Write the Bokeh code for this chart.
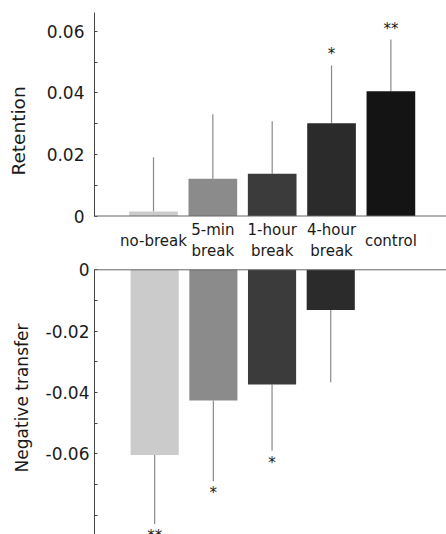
from bokeh.plotting import figure
from bokeh.layouts import column
from bokeh.models import Range1d, FixedTicker, Span, ColumnDataSource
from bokeh.core.properties import value
from bokeh.embed import file_html
from bokeh.resources import INLINE

# ---- data ----
categories = ["no-break", "5-min break", "1-hour break", "4-hour break", "control"]
category_labels = ["no-break", "5-min\nbreak", "1-hour\nbreak", "4-hour\nbreak", "control"]
bar_colors = ["#cbcbcb", "#8b8b8b", "#3b3b3b", "#2b2b2b", "#141414"]

retention = [0.0015, 0.0121, 0.0137, 0.0301, 0.0405]
retention_err = [0.0176, 0.0209, 0.0171, 0.0188, 0.0168]
retention_sig = ["", "", "", "*", "**"]

transfer = [-0.0604, -0.0426, -0.0374, -0.0131, 0.0]
transfer_err = [0.0225, 0.0264, 0.0216, 0.0236, 0.0]
transfer_sig = ["**", "*", "*", "", ""]

retention_ticks = [0, 0.02, 0.04, 0.06]
retention_minor = [0.01, 0.03, 0.05]
transfer_ticks = [0, -0.02, -0.04, -0.06]
transfer_minor = [-0.01, -0.03, -0.05, -0.07, -0.08]

FONT = "DejaVu Sans"
TXT = "#1a1a1a"
AX = "#444444"

xs = list(range(len(categories)))


def style_axis(p, ticks, minor, bounds, label, label_size, standoff, title_standoff):
    p.xaxis.visible = False
    p.xgrid.visible = False
    p.ygrid.visible = False
    p.outline_line_color = None
    ax = p.yaxis[0]
    ax.ticker = FixedTicker(ticks=ticks, minor_ticks=minor)
    ax.bounds = bounds
    ax.axis_line_color = AX
    ax.major_tick_line_color = AX
    ax.minor_tick_line_color = AX
    ax.major_tick_in = 3
    ax.major_tick_out = 0
    ax.minor_tick_in = 3
    ax.minor_tick_out = 0
    ax.major_label_standoff = standoff
    ax.major_label_text_font = FONT
    ax.major_label_text_font_size = "17px"
    ax.major_label_text_color = TXT
    ax.axis_label = label
    ax.axis_label_text_font = FONT
    ax.axis_label_text_font_size = label_size
    ax.axis_label_text_font_style = "normal"
    ax.axis_label_text_color = TXT
    ax.axis_label_standoff = title_standoff
    ax.major_label_overrides = {t: ("0" if t == 0 else f"{t:.2f}") for t in ticks}


# ---- top panel: retention ----
top = figure(width=446, height=261, output_backend="svg", toolbar_location=None,
             x_range=Range1d(-0.994, 4.937), y_range=Range1d(-0.01477, 0.06997),
             min_border_left=94, min_border_right=0, min_border_top=0, min_border_bottom=0)
style_axis(top, retention_ticks, retention_minor, (0, 0.066), "Retention", "18.5px", 10, 15)

src_r = ColumnDataSource(dict(
    x=xs, v=retention, color=bar_colors,
    e=[v + e for v, e in zip(retention, retention_err)],
    sig=retention_sig, lab=category_labels,
    ly=[-0.0080] * len(xs),
))
top.segment(x0="x", y0="v", x1="x", y1="e", source=src_r, line_color="#8a8a8a", line_width=1.2)
top.vbar(x="x", top="v", bottom=0, width=0.82, source=src_r, fill_color="color", line_color=None)
top.add_layout(Span(location=0, dimension="width", line_color="#666666", line_width=1))
top.text(x="x", y="e", text="sig", source=src_r, text_align="center", text_baseline="middle",
         y_offset=-11, text_font=value(FONT), text_font_size="15px", text_color=TXT)
top.text(x="x", y="ly", text="lab", source=src_r, text_align="center", text_baseline="middle",
         text_font=value(FONT), text_font_size="15px", text_color=TXT, text_line_height=1.2)

# ---- bottom panel: negative transfer ----
bot = figure(width=446, height=273, output_backend="svg", toolbar_location=None,
             x_range=Range1d(-1.025, 4.972), y_range=Range1d(-0.08636, 0.00271),
             min_border_left=91, min_border_right=0, min_border_top=0, min_border_bottom=0)
style_axis(bot, transfer_ticks, transfer_minor, (-0.08636, 0), "Negative transfer", "17px", 5, 11)

src_t = ColumnDataSource(dict(
    x=xs, v=transfer, color=bar_colors,
    e=[v - e for v, e in zip(transfer, transfer_err)],
    sig=transfer_sig,
))
bot.segment(x0="x", y0="v", x1="x", y1="e", source=src_t, line_color="#8a8a8a", line_width=1.2)
bot.vbar(x="x", top=0, bottom="v", width=0.82, source=src_t, fill_color="color", line_color=None)
bot.add_layout(Span(location=0, dimension="width", line_color="#666666", line_width=1))
bot.text(x="x", y="e", text="sig", source=src_t, text_align="center", text_baseline="middle",
         y_offset=12, text_font=value(FONT), text_font_size="15px", text_color=TXT)

layout = column(top, bot, spacing=0)
open("out.html", "w").write(file_html(layout, INLINE))
